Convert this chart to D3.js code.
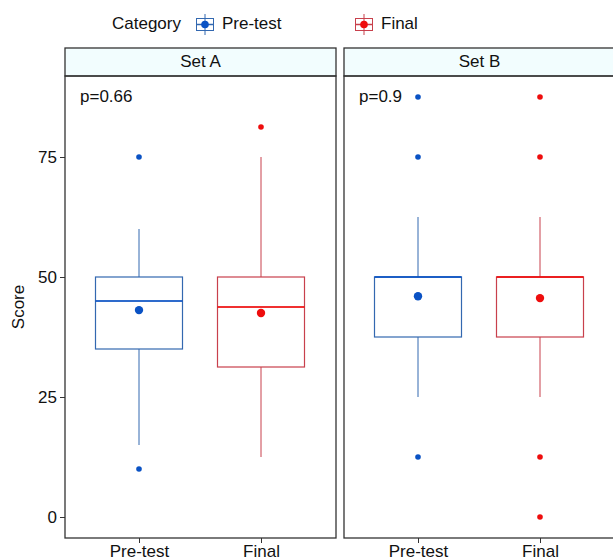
<!DOCTYPE html>
<html>
<head>
<meta charset="utf-8">
<script src="https://cdn.jsdelivr.net/npm/d3@7"></script>
<style>
  body { margin: 0; background: #fff; }
  svg { font-family: "Liberation Sans", Arial, sans-serif; }
</style>
</head>
<body>
<svg id="chart" width="613" height="557"></svg>
<script>
// data
const sets = ['Set A', 'Set B'];
const categories = ['Pre-test', 'Final'];
const pValues = ['p=0.66', 'p=0.9'];
// [set][category]
const lowerWhisker = [[15, 12.5], [25, 25]];
const q1 = [[35, 31.25], [37.5, 37.5]];
const median = [[45, 43.75], [50, 50]];
const q3 = [[50, 50], [50, 50]];
const upperWhisker = [[60, 75], [62.5, 62.5]];
const means = [[43.1, 42.5], [46.0, 45.6]];
const outliers = [[[75, 10], [81.25]], [[87.5, 75, 12.5], [87.5, 75, 12.5, 0]]];
const yTicks = [0, 25, 50, 75];

const colors = { 'Pre-test': '#0a52c4', 'Final': '#ee0d0d' };
const boxColors = { 'Pre-test': '#3368b0', 'Final': '#c8404c' };

const fs = 17;
const svg = d3.select('#chart');

const panelTop = 76, panelBottom = 538, stripTop = 48;
const panelW = 271;
const panelLeft = [65, 344];

const y = d3.scaleLinear()
  .domain([-4.375, 91.875])
  .range([panelBottom, panelTop]);

const x = d3.scalePoint()
  .domain(categories)
  .range([74, 196]);

const boxW = 87;

// legend
const legend = svg.append('g');
legend.append('text')
  .attr('x', 112).attr('y', 29)
  .attr('font-size', fs).attr('fill', '#111')
  .text('Category');
const legendX = [196, 355];
categories.forEach((c, i) => {
  const g = legend.append('g').attr('transform', `translate(${legendX[i]},15)`);
  g.append('line').attr('x1', 9).attr('x2', 9).attr('y1', -1).attr('y2', 20)
    .attr('stroke', boxColors[c]).attr('stroke-width', 1);
  g.append('rect').attr('x', 0.5).attr('y', 3.5).attr('width', 17).attr('height', 12)
    .attr('fill', '#fff').attr('stroke', boxColors[c]).attr('stroke-width', 1);
  g.append('line').attr('x1', 0.5).attr('x2', 17.5).attr('y1', 9.5).attr('y2', 9.5)
    .attr('stroke', boxColors[c]).attr('stroke-width', 1.5);
  g.append('line').attr('x1', 9).attr('x2', 9).attr('y1', 3.5).attr('y2', 15.5)
    .attr('stroke', boxColors[c]).attr('stroke-width', 1);
  g.append('circle').attr('cx', 9).attr('cy', 9.5).attr('r', 3.8).attr('fill', colors[c]);
  legend.append('text')
    .attr('x', legendX[i] + 26).attr('y', 29)
    .attr('font-size', fs).attr('fill', '#111')
    .text(c);
});

// y axis title
svg.append('text')
  .attr('transform', 'translate(24,' + ((panelTop + panelBottom) / 2) + ') rotate(-90)')
  .attr('text-anchor', 'middle')
  .attr('font-size', fs).attr('fill', '#111')
  .text('Score');

// y axis
const yAxis = svg.append('g')
  .attr('transform', `translate(${panelLeft[0]},0)`)
  .call(d3.axisLeft(y).tickValues(yTicks).tickSize(5).tickPadding(3));
yAxis.select('.domain').remove();
yAxis.selectAll('line').attr('stroke', '#333');
yAxis.selectAll('text').attr('font-size', fs).attr('fill', '#111')
  .attr('font-family', '"Liberation Sans", Arial, sans-serif');

sets.forEach((s, si) => {
  const g = svg.append('g').attr('transform', `translate(${panelLeft[si]},0)`);

  // strip
  g.append('rect')
    .attr('x', 0).attr('y', stripTop).attr('width', panelW).attr('height', panelTop - stripTop)
    .attr('fill', '#f2fdfe').attr('stroke', '#333').attr('stroke-width', 1.3);
  g.append('text')
    .attr('x', panelW / 2).attr('y', stripTop + 19)
    .attr('text-anchor', 'middle').attr('font-size', fs).attr('fill', '#111')
    .text(s);

  // panel border
  g.append('rect')
    .attr('x', 0).attr('y', panelTop).attr('width', panelW).attr('height', panelBottom - panelTop)
    .attr('fill', 'none').attr('stroke', '#333').attr('stroke-width', 1.3);

  // x axis
  const xAxis = g.append('g')
    .attr('transform', `translate(0,${panelBottom})`)
    .call(d3.axisBottom(x).tickSize(5).tickPadding(2));
  xAxis.select('.domain').remove();
  xAxis.selectAll('line').attr('stroke', '#333');
  xAxis.selectAll('text').attr('font-size', fs).attr('fill', '#111')
    .attr('font-family', '"Liberation Sans", Arial, sans-serif');

  categories.forEach((c, ci) => {
    const cx = x(c);
    const col = boxColors[c];
    // whiskers
    g.append('line').attr('x1', cx).attr('x2', cx)
      .attr('y1', y(upperWhisker[si][ci])).attr('y2', y(q3[si][ci]))
      .attr('stroke', col).attr('stroke-width', 1);
    g.append('line').attr('x1', cx).attr('x2', cx)
      .attr('y1', y(q1[si][ci])).attr('y2', y(lowerWhisker[si][ci]))
      .attr('stroke', col).attr('stroke-width', 1);
    // box
    g.append('rect')
      .attr('x', cx - boxW / 2).attr('y', y(q3[si][ci]))
      .attr('width', boxW).attr('height', y(q1[si][ci]) - y(q3[si][ci]))
      .attr('fill', '#fff').attr('stroke', col).attr('stroke-width', 1.2);
    // median
    g.append('line')
      .attr('x1', cx - boxW / 2).attr('x2', cx + boxW / 2)
      .attr('y1', y(median[si][ci])).attr('y2', y(median[si][ci]))
      .attr('stroke', colors[c]).attr('stroke-width', 2.2).attr('opacity', 0.85);
    // outliers
    g.selectAll(null).data(outliers[si][ci]).enter().append('circle')
      .attr('cx', cx).attr('cy', d => y(d)).attr('r', 2.8)
      .attr('fill', colors[c]);
    // mean
    g.append('circle')
      .attr('cx', cx).attr('cy', y(means[si][ci])).attr('r', 4.2)
      .attr('fill', colors[c]);
  });

  // p-value label
  g.append('text')
    .attr('x', 15).attr('y', 102)
    .attr('font-size', fs).attr('fill', '#111')
    .text(pValues[si]);
});
</script>
</body>
</html>
